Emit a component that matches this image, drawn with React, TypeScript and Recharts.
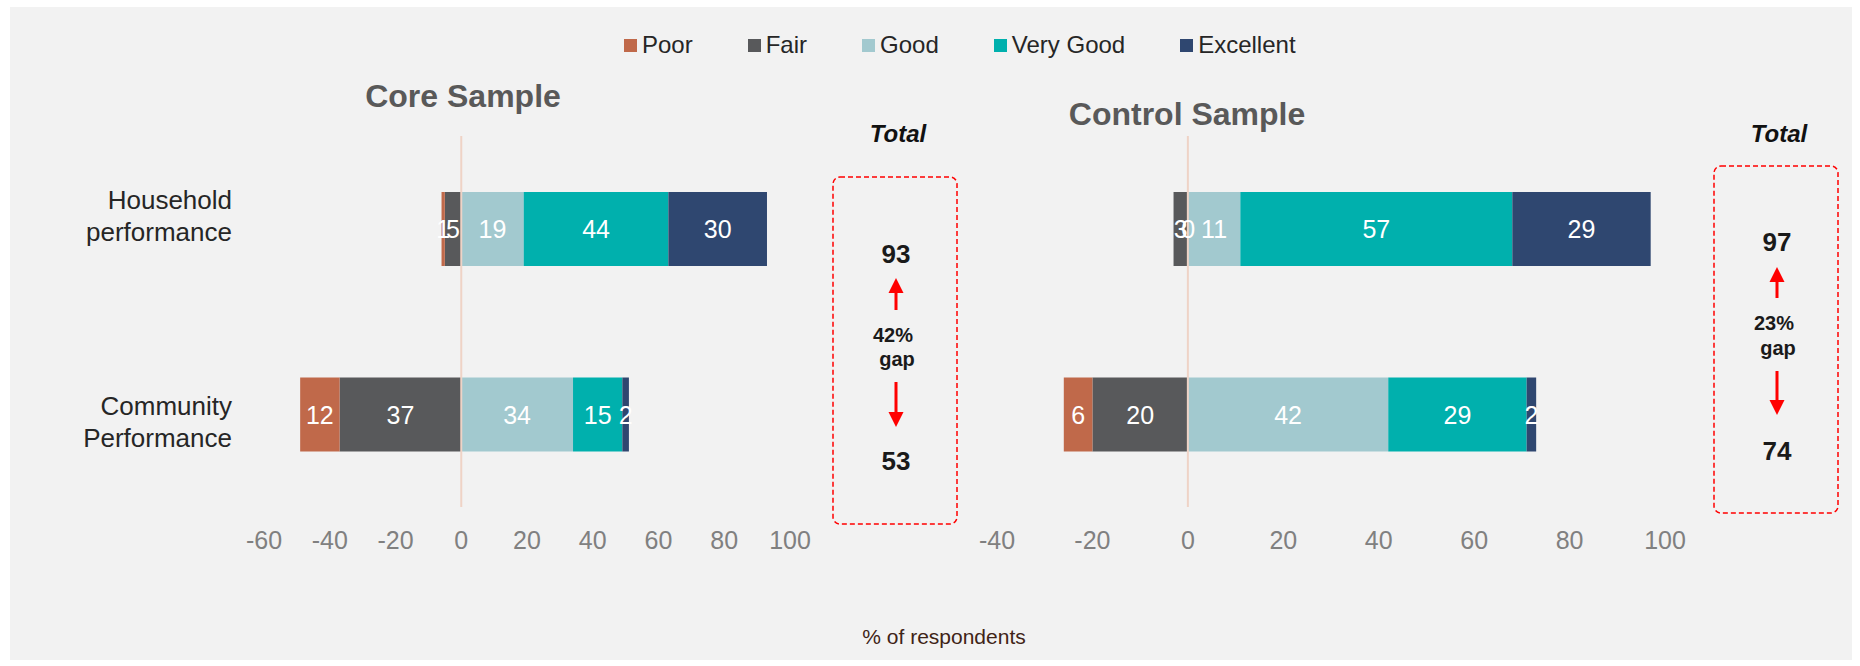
import React from 'react';
import { BarChart, Bar, XAxis, YAxis, ReferenceLine, LabelList } from 'recharts';

// ---------- data ----------
const categories = ['Household performance', 'Community Performance'];
const seriesNames = ['Poor', 'Fair', 'Good', 'Very Good', 'Excellent'];
const seriesColors = ['#c0694a', '#58595b', '#a2c9cf', '#00b0ad', '#2f4770'];

const corePoor = [1, 12];
const coreFair = [5, 37];
const coreGood = [19, 34];
const coreVeryGood = [44, 15];
const coreExcellent = [30, 2];

const controlPoor = [0, 6];
const controlFair = [3, 20];
const controlGood = [11, 42];
const controlVeryGood = [57, 29];
const controlExcellent = [29, 2];

const coreTicks = [-60, -40, -20, 0, 20, 40, 60, 80, 100];
const controlTicks = [-40, -20, 0, 20, 40, 60, 80, 100];

const coreTotals = [93, 53];
const coreGap = '42%';
const controlTotals = [97, 74];
const controlGap = '23%';

const coreTitle = 'Core Sample';
const controlTitle = 'Control Sample';
const totalLabel = 'Total';
const gapWord = 'gap';
const xAxisTitle = '% of respondents';

// ---------- helpers ----------
const FONT = '"Liberation Sans", Arial, Helvetica, sans-serif';
const stackOrder = [1, 0, 2, 3, 4]; // Fair next to zero, Poor outermost
const catLabelShift = [-13, 8];

function buildRows(poor: number[], fair: number[], good: number[], vg: number[], ex: number[]) {
  return categories.map((c, i) => ({
    category: c,
    Poor: -poor[i],
    Fair: -fair[i],
    Good: good[i],
    'Very Good': vg[i],
    Excellent: ex[i],
  }));
}

const coreRows = buildRows(corePoor, coreFair, coreGood, coreVeryGood, coreExcellent);
const controlRows = buildRows(controlPoor, controlFair, controlGood, controlVeryGood, controlExcellent);

const CategoryTick = (props: any) => {
  const { x, y, payload, index } = props;
  const words = String(payload.value).split(' ');
  const yy = y + (catLabelShift[index] ?? 0);
  return (
    <text x={x} y={yy} textAnchor="end" fill="#262626" fontSize={26} fontFamily={FONT}>
      <tspan x={x} dy={-7}>{words[0]}</tspan>
      <tspan x={x} dy={32}>{words.slice(1).join(' ')}</tspan>
    </text>
  );
};

const SegmentLabel = (props: any) => {
  const { x, y, width, height, value } = props;
  if (value === undefined || value === null) return null;
  const cx = Number(x) + Number(width) / 2;
  const cy = Number(y) + Number(height) / 2;
  return (
    <text x={cx} y={cy + 9} textAnchor="middle" fill="#ffffff" fontSize={25} fontFamily={FONT}>
      {String(Math.abs(Number(value)))}
    </text>
  );
};

function renderBars() {
  return stackOrder.map((si) => (
    <Bar
      key={seriesNames[si]}
      dataKey={seriesNames[si]}
      stackId="s"
      fill={seriesColors[si]}
      isAnimationActive={false}
      barSize={74}
      minPointSize={0.5}
    >
      <LabelList dataKey={seriesNames[si]} content={<SegmentLabel />} />
    </Bar>
  ));
}

const tickStyle = { fontSize: 25, fill: '#808080', fontFamily: FONT };

const UpArrow = ({ x, tip, base }: { x: number; tip: number; base: number }) => (
  <g>
    <line x1={x} x2={x} y1={tip + 12} y2={base} stroke="#ff0000" strokeWidth={3} />
    <polygon points={`${x},${tip} ${x - 7.5},${tip + 15} ${x + 7.5},${tip + 15}`} fill="#ff0000" />
  </g>
);
const DownArrow = ({ x, tip, base }: { x: number; tip: number; base: number }) => (
  <g>
    <line x1={x} x2={x} y1={base} y2={tip - 12} stroke="#ff0000" strokeWidth={3} />
    <polygon points={`${x},${tip} ${x - 7.5},${tip - 15} ${x + 7.5},${tip - 15}`} fill="#ff0000" />
  </g>
);

const GapBox = (p: { bx: number; by: number; bh: number; cx: number; totals: number[]; gap: string; yTop: number; yUpTip: number; yUpBase: number; yPct: number; yGap: number; yDnBase: number; yDnTip: number; yBot: number }) => (
  <g>
    <rect x={p.bx} y={p.by} width={124} height={p.bh} rx={7} ry={7} fill="none" stroke="#ff0000" strokeWidth={1.5} strokeDasharray="5 3" />
    <text x={p.cx} y={p.yTop + 9.5} textAnchor="middle" fontSize={26} fontWeight="bold" fill="#1a1a1a">{p.totals[0]}</text>
    <UpArrow x={p.cx} tip={p.yUpTip} base={p.yUpBase} />
    <text x={p.cx - 3} y={p.yPct + 7} textAnchor="middle" fontSize={20} fontWeight="bold" fill="#1a1a1a">{p.gap}</text>
    <text x={p.cx + 1} y={p.yGap + 6} textAnchor="middle" fontSize={20} fontWeight="bold" fill="#1a1a1a">{gapWord}</text>
    <DownArrow x={p.cx} tip={p.yDnTip} base={p.yDnBase} />
    <text x={p.cx} y={p.yBot + 9.5} textAnchor="middle" fontSize={26} fontWeight="bold" fill="#1a1a1a">{p.totals[1]}</text>
  </g>
);

export default function App() {
  return (
    <div style={{ position: 'absolute', left: 0, top: 0, width: 1860, height: 666, background: '#ffffff', fontFamily: FONT, overflow: 'hidden' }}>
      <div style={{ position: 'absolute', left: 10, top: 7, width: 1842, height: 653, background: '#f2f2f2' }} />

      {/* Core chart */}
      <div style={{ position: 'absolute', left: 0, top: 0 }}>
        <BarChart
          width={830}
          height={666}
          data={coreRows}
          layout="vertical"
          stackOffset="sign"
          margin={{ top: 136, right: 40, bottom: 99, left: 20 }}
        >
          <XAxis
            type="number"
            domain={[-60, 100]}
            ticks={coreTicks}
            allowDataOverflow
            axisLine={false}
            tickLine={false}
            tickSize={0}
            tickMargin={24}
            height={60}
            tick={tickStyle}
            interval={0}
          />
          <YAxis
            type="category"
            dataKey="category"
            width={244}
            axisLine={false}
            tickLine={false}
            tickSize={0}
            tickMargin={32}
            tick={<CategoryTick />}
            interval={0}
          />
          {renderBars()}
          <ReferenceLine x={0} stroke="#efd3c6" strokeWidth={2} />
        </BarChart>
      </div>

      {/* Control chart */}
      <div style={{ position: 'absolute', left: 960, top: 0 }}>
        <BarChart
          width={900}
          height={666}
          data={controlRows}
          layout="vertical"
          stackOffset="sign"
          margin={{ top: 136, right: 195, bottom: 99, left: 37 }}
        >
          <XAxis
            type="number"
            domain={[-40, 100]}
            ticks={controlTicks}
            allowDataOverflow
            axisLine={false}
            tickLine={false}
            tickSize={0}
            tickMargin={24}
            height={60}
            tick={tickStyle}
            interval={0}
          />
          <YAxis type="category" dataKey="category" hide />
          {renderBars()}
          <ReferenceLine x={0} stroke="#efd3c6" strokeWidth={2} />
        </BarChart>
      </div>

      {/* Legend */}
      <div style={{ position: 'absolute', left: 624, top: 33, height: 24, display: 'flex', alignItems: 'center', gap: 55 }}>
        {seriesNames.map((n, i) => (
          <div key={n} style={{ display: 'flex', alignItems: 'center' }}>
            <div style={{ width: 13, height: 13, background: seriesColors[i], marginRight: 5 }} />
            <span style={{ fontSize: 24, lineHeight: '24px', color: '#262626' }}>{n}</span>
          </div>
        ))}
      </div>

      {/* Overlay annotations */}
      <svg width={1860} height={666} style={{ position: 'absolute', left: 0, top: 0, pointerEvents: 'none', fontFamily: FONT }}>
        <text x={463} y={107} textAnchor="middle" fontSize={32} fontWeight="bold" fill="#595959">{coreTitle}</text>
        <text x={1187} y={125} textAnchor="middle" fontSize={32} fontWeight="bold" fill="#595959">{controlTitle}</text>
        <text x={898} y={142} textAnchor="middle" fontSize={24} fontWeight="bold" fontStyle="italic" fill="#111111">{totalLabel}</text>
        <text x={1779} y={142} textAnchor="middle" fontSize={24} fontWeight="bold" fontStyle="italic" fill="#111111">{totalLabel}</text>
        <GapBox bx={833} by={177} bh={347} cx={896} totals={coreTotals} gap={coreGap}
          yTop={253} yUpTip={278} yUpBase={310} yPct={335} yGap={360} yDnBase={382} yDnTip={427} yBot={460} />
        <GapBox bx={1714} by={166} bh={347} cx={1777} totals={controlTotals} gap={controlGap}
          yTop={241} yUpTip={267} yUpBase={298} yPct={323} yGap={349} yDnBase={371} yDnTip={415} yBot={450} />
        <text x={944} y={644} textAnchor="middle" fontSize={21} fill="#3f2417">{xAxisTitle}</text>
      </svg>
    </div>
  );
}
